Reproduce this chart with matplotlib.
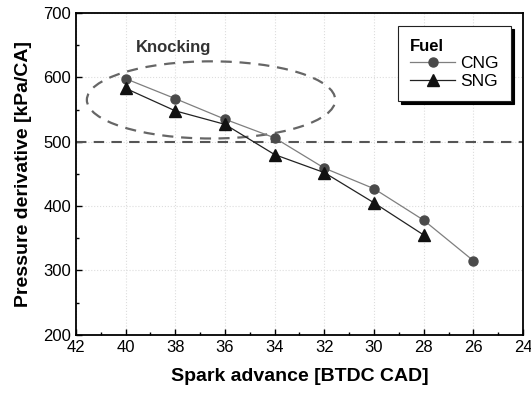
import matplotlib.pyplot as plt
from matplotlib.patches import Ellipse
from matplotlib.ticker import MultipleLocator

plt.rcParams['font.family'] = ['Liberation Sans', 'DejaVu Sans']

# data
spark_cng = [40, 38, 36, 34, 32, 30, 28, 26]
dp_cng = [598, 567, 535, 506, 459, 427, 378, 315]
spark_sng = [40, 38, 36, 34, 32, 30, 28]
dp_sng = [583, 548, 527, 480, 452, 405, 355]

fig = plt.figure(figsize=(5.31, 3.97), dpi=100)
ax = fig.add_axes([0.143, 0.157, 0.842, 0.81])

ax.plot(spark_cng, dp_cng, color='#7f7f7f', lw=0.9, marker='o', ms=6.5,
        mfc='#4a4a4a', mec='#4a4a4a', label='CNG', zorder=3)
ax.plot(spark_sng, dp_sng, color='#222222', lw=0.9, marker='^', ms=8,
        mfc='#111111', mec='#111111', label='SNG', zorder=3)

# knocking limit + region
ax.axhline(500, color='#555555', lw=1.5, ls=(0, (5, 3.5)), zorder=2)
ell = Ellipse((36.56, 565), 10.0, 120, fill=False, ec='#666666', lw=1.6,
              ls=(0, (5, 3.5)), zorder=2)
ax.add_patch(ell)
ax.text(39.6, 647, 'Knocking', fontsize=12, fontweight='bold', va='center',
        ha='left', color='#333333')

ax.set_xlim(42, 24)
ax.set_ylim(200, 700)
ax.xaxis.set_major_locator(MultipleLocator(2))
ax.xaxis.set_minor_locator(MultipleLocator(1))
ax.yaxis.set_major_locator(MultipleLocator(100))
ax.yaxis.set_minor_locator(MultipleLocator(50))
ax.tick_params(which='both', direction='in', labelsize=12, top=False, right=False)
ax.tick_params(which='major', length=4, width=1)
ax.tick_params(which='minor', length=2.5, width=1)
ax.grid(True, which='major', ls=':', color='#dddddd', lw=0.8)
for s in ax.spines.values():
    s.set_linewidth(1.3)

ax.set_xlabel('Spark advance [BTDC CAD]', fontsize=14, fontweight='bold', labelpad=10)
ax.set_ylabel('Pressure derivative [kPa/CA]', fontsize=14, fontweight='bold', labelpad=8)

leg = ax.legend(title='Fuel', loc='upper right', bbox_to_anchor=(0.985, 0.975),
                fontsize=12.5, title_fontproperties={'weight': 'bold', 'size': 12},
                fancybox=False, framealpha=1, edgecolor='#222222',
                shadow={'color': 'black', 'alpha': 1}, handlelength=2.6,
                borderpad=0.7, labelspacing=0.15, handletextpad=0.3,
                borderaxespad=0.3)
leg._legend_box.align = 'left'
leg.get_frame().set_linewidth(0.8)

fig.savefig('out.png', dpi=100)
